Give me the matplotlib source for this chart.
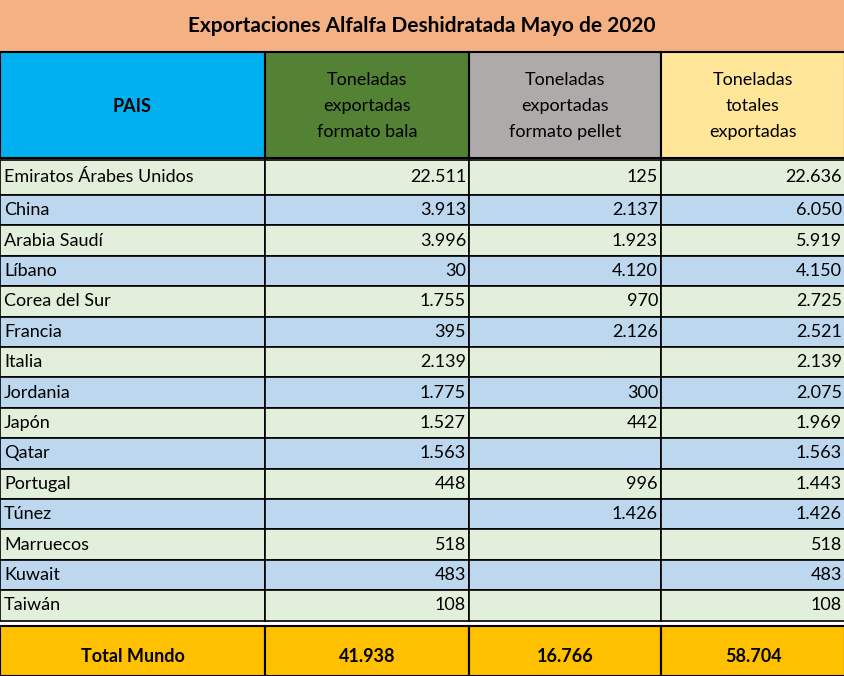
import matplotlib.pyplot as plt
from matplotlib.patches import Rectangle

plt.rcParams['font.family'] = ['Lato', 'DejaVu Sans']

title = 'Exportaciones Alfalfa Deshidratada Mayo de 2020'
headers = ['PAIS', 'Toneladas\nexportadas\nformato bala',
           'Toneladas\nexportadas\nformato pellet', 'Toneladas\ntotales\nexportadas']
countries = ['Emiratos Árabes Unidos', 'China', 'Arabia Saudí', 'Líbano', 'Corea del Sur',
             'Francia', 'Italia', 'Jordania', 'Japón', 'Qatar', 'Portugal', 'Túnez',
             'Marruecos', 'Kuwait', 'Taiwán']
bala = ['22.511', '3.913', '3.996', '30', '1.755', '395', '2.139', '1.775', '1.527',
        '1.563', '448', '', '518', '483', '108']
pellet = ['125', '2.137', '1.923', '4.120', '970', '2.126', '', '300', '442', '',
          '996', '1.426', '', '', '']
totales = ['22.636', '6.050', '5.919', '4.150', '2.725', '2.521', '2.139', '2.075',
           '1.969', '1.563', '1.443', '1.426', '518', '483', '108']
total_row = ['Total Mundo', '41.938', '16.766', '58.704']

cols = [0, 265, 469, 661, 845]
head_colors = ['#00B0F0', '#548235', '#AEAAAA', '#FFE699']

fig = plt.figure(figsize=(8.45, 6.76), dpi=100)
ax = fig.add_axes([0, 0, 1, 1])
ax.set_xlim(0, 845)
ax.set_ylim(676, 0)
ax.axis('off')


def cell(x0, x1, y0, y1, color, lw=1.0):
    ax.add_patch(Rectangle((x0, y0), x1 - x0, y1 - y0, facecolor=color,
                           edgecolor='black', linewidth=lw))


# title
cell(0, 845, 0, 52, '#F4B183', 0)
ax.text(422, 26, title, ha='center', va='center', fontsize=15, fontweight='bold')

# header
for i in range(4):
    cell(cols[i], cols[i + 1], 52, 158, head_colors[i], 1.5)
    ax.text((cols[i] + cols[i + 1]) / 2, 106, headers[i], ha='center', va='center',
            fontsize=13, fontweight='bold' if i == 0 else 'normal', linespacing=1.75)

# data rows
tops = [160, 195] + [195 + 30.4 * k for k in range(1, 15)]
for r, name in enumerate(countries):
    y0, y1 = tops[r], tops[r + 1]
    color = '#E2EFDA' if r % 2 == 0 else '#BDD7EE'
    vals = [name, bala[r], pellet[r], totales[r]]
    for i in range(4):
        cell(cols[i], cols[i + 1], y0, y1, color, 1.2)
        if i == 0:
            ax.text(4, (y0 + y1) / 2, vals[i], ha='left', va='center', fontsize=13)
        else:
            ax.text(cols[i + 1] - 3, (y0 + y1) / 2, vals[i], ha='right', va='center',
                    fontsize=13)

# total row
for i in range(4):
    cell(cols[i], cols[i + 1], 626, 676, '#FFC000', 1.5)
    ax.text((cols[i] + cols[i + 1]) / 2, 656, total_row[i], ha='center', va='center',
            fontsize=13, fontweight='bold')

fig.savefig('out.png', dpi=100)
